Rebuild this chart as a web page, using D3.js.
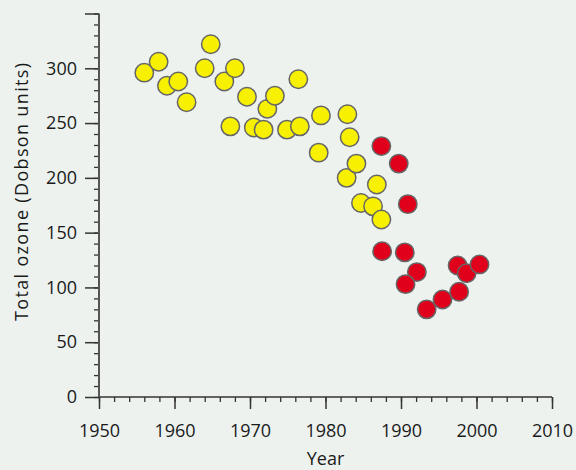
<!DOCTYPE html>
<html>
<head>
<meta charset="utf-8">
<script src="https://cdn.jsdelivr.net/npm/d3@7"></script>
<style>
html,body{margin:0;padding:0;background:#edf2ef;}
svg{display:block;}
text{font-family:"Open Sans",sans-serif;fill:#1a1a1a;}
</style>
</head>
<body>
<svg id="chart" width="576" height="470"></svg>
<script>
// Pre-1985 (yellow) measurements
const yellowYears = [1956.0,1957.9,1959.0,1960.5,1961.6,1964.8,1964.0,1966.6,1968.0,1969.6,1967.4,1970.5,1971.8,1972.3,1973.3,1974.9,1976.6,1976.4,1979.4,1979.1,1982.9,1983.2,1982.8,1984.1,1986.8,1984.7,1986.3,1987.4];
const yellowValues = [296,306,284,288,269,322,300,288,300,274,247,246,244,263,275,244,247,290,257,223,258,237,200,213,194,177,174,162];
// Later (red) measurements
const redYears = [1987.4,1989.7,1990.9,1987.5,1990.5,1992.1,1990.6,1993.4,1995.5,1997.7,1997.5,1998.7,2000.4];
const redValues = [229,213,176,133,132,114,103,80,89,96,120,113,121];

const xTicks = [1950,1960,1970,1980,1990,2000,2010];
const yTicks = [0,50,100,150,200,250,300];
const xLabel = "Year";
const yLabel = "Total ozone (Dobson units)";

const svg = d3.select("#chart");
const x = d3.scaleLinear().domain([1950,2010]).range([99,552]);
const y = d3.scaleLinear().domain([0,350]).range([397,13.5]);

const axisColor = "#333";
const fs = "18px";

// X axis
const gx = svg.append("g").attr("transform","translate(0,397)");
gx.call(d3.axisBottom(x).tickValues(d3.range(1950,2011,2)).tickSize(5).tickFormat(""));
gx.selectAll(".tick line").attr("stroke",axisColor).attr("stroke-width",1.3);
const gx2 = svg.append("g").attr("transform","translate(0,397)");
gx2.call(d3.axisBottom(x).tickValues(xTicks).tickSize(12).tickPadding(15).tickFormat(d3.format("d")));
gx2.selectAll(".tick line").attr("stroke",axisColor).attr("stroke-width",1.5);
gx2.selectAll("text").style("font-size",fs).attr("fill","#1a1a1a");
svg.selectAll(".domain").remove();

// Y axis
const gy = svg.append("g").attr("transform","translate(99,0)");
gy.call(d3.axisLeft(y).tickValues(d3.range(0,351,10)).tickSize(5).tickFormat(""));
gy.selectAll(".tick line").attr("stroke",axisColor).attr("stroke-width",1.3);
const gy2 = svg.append("g").attr("transform","translate(99,0)");
gy2.call(d3.axisLeft(y).tickValues(yTicks.concat([350])).tickSize(14).tickPadding(8).tickFormat(d=> d===350 ? "" : d));
gy2.selectAll(".tick line").attr("stroke",axisColor).attr("stroke-width",1.5);
gy2.selectAll("text").style("font-size",fs).attr("fill","#1a1a1a");
svg.selectAll(".domain").remove();

// axis lines
svg.append("line").attr("x1",x(1950)).attr("x2",x(2010)).attr("y1",y(0)).attr("y2",y(0))
  .attr("stroke",axisColor).attr("stroke-width",1.6);
svg.append("line").attr("x1",x(1950)).attr("x2",x(1950)).attr("y1",y(0)).attr("y2",y(350))
  .attr("stroke","#555").attr("stroke-width",2);

// labels
svg.append("text").attr("x",(x(1950)+x(2010))/2).attr("y",465).attr("text-anchor","middle")
  .style("font-size",fs).text(xLabel);
svg.append("text").attr("transform","translate(28,192) rotate(-90)").attr("text-anchor","middle")
  .attr("textLength",258).attr("lengthAdjust","spacing")
  .style("font-size",fs).text(yLabel);

const r = 9.2;
const yellowData = yellowYears.map((d,i)=>({year:d,value:yellowValues[i]}));
const redData = redYears.map((d,i)=>({year:d,value:redValues[i]}));

svg.append("g").selectAll("circle").data(yellowData).join("circle")
  .attr("cx",d=>x(d.year)).attr("cy",d=>y(d.value)).attr("r",r)
  .attr("fill","#f7f000").attr("stroke","#666").attr("stroke-width",1.5);
svg.append("g").selectAll("circle").data(redData).join("circle")
  .attr("cx",d=>x(d.year)).attr("cy",d=>y(d.value)).attr("r",r)
  .attr("fill","#e0001b").attr("stroke","#666").attr("stroke-width",1.5);
</script>
</body>
</html>
